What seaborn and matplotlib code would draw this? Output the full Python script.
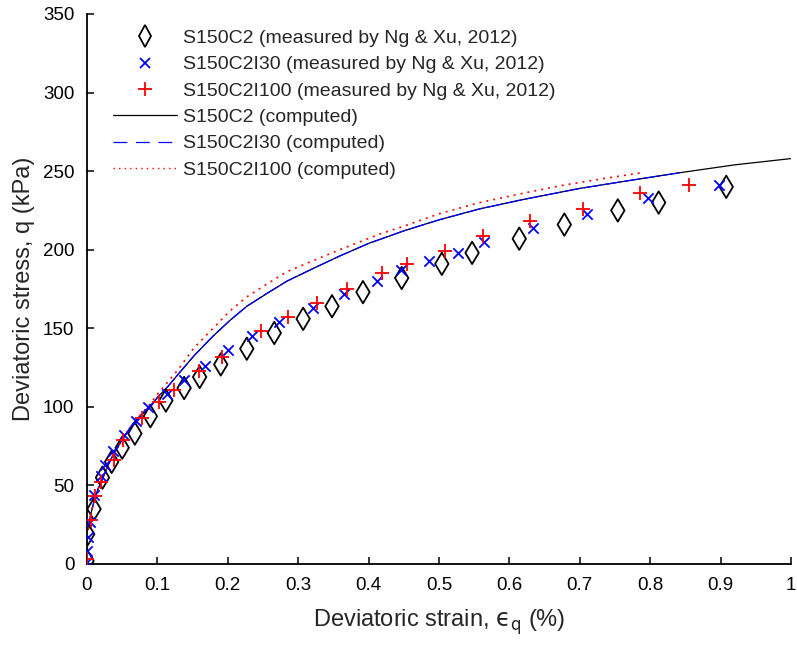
import numpy as np
import pandas as pd
import matplotlib
matplotlib.use("Agg")
import matplotlib.pyplot as plt
from matplotlib.lines import Line2D
import seaborn as sns

s150c2_x = [0.000, 0.001, 0.010, 0.022, 0.035, 0.050, 0.068, 0.090, 0.112, 0.138,
            0.160, 0.190, 0.227, 0.266, 0.307, 0.348, 0.392, 0.447, 0.504, 0.547,
            0.614, 0.678, 0.754, 0.812, 0.908]
s150c2_q = [2, 19, 35, 55, 65, 74, 83, 94, 104, 112,
            119, 127, 137, 147, 156, 164, 173, 182, 191, 198,
            207, 216, 225, 230, 240]

s150c2i30_x = [0.000, 0.000, 0.001, 0.004, 0.010, 0.020, 0.026, 0.037, 0.053, 0.070,
               0.087, 0.114, 0.138, 0.168, 0.200, 0.234, 0.273, 0.321, 0.365, 0.412,
               0.446, 0.486, 0.527, 0.564, 0.634, 0.710, 0.797, 0.898]
s150c2i30_q = [1, 8, 17, 27, 44, 56, 63, 72, 82, 91,
               100, 108, 117, 126, 136, 145, 154, 163, 172, 180,
               187, 193, 198, 205, 214, 223, 233, 241]

s150c2i100_x = [0.000, 0.005, 0.012, 0.020, 0.038, 0.051, 0.078, 0.102, 0.124, 0.159,
                0.192, 0.247, 0.286, 0.327, 0.369, 0.419, 0.455, 0.509, 0.563, 0.629,
                0.705, 0.786, 0.855]
s150c2i100_q = [3, 28, 43, 52, 66, 79, 93, 103, 111, 123,
                132, 148, 157, 166, 175, 185, 191, 199, 209, 218,
                226, 236, 241]

# ---- computed curves ----
comp_c2_x = [0.002, 0.005, 0.010, 0.015, 0.020, 0.030, 0.040, 0.050, 0.060, 0.070,
             0.080, 0.090, 0.100, 0.115, 0.130, 0.153, 0.179, 0.203, 0.227, 0.255,
             0.284, 0.321, 0.359, 0.400, 0.450, 0.500, 0.558, 0.620, 0.700, 0.770,
             0.842, 0.920, 1.000]
comp_c2_q = [22, 31, 40, 47, 52, 63, 72, 79, 86, 92,
             96, 100, 106, 113, 121, 133, 145, 155, 164, 172,
             180, 188, 196, 204, 212, 219, 226, 232, 239, 244,
             249, 254, 258]

comp_i30_x = comp_c2_x[:31]
comp_i30_q = comp_c2_q[:31]

comp_i100_x = [0.002, 0.005, 0.010, 0.015, 0.020, 0.030, 0.040, 0.050, 0.060, 0.070,
               0.080, 0.090, 0.100, 0.115, 0.130, 0.151, 0.179, 0.203, 0.227, 0.255,
               0.284, 0.321, 0.359, 0.416, 0.450, 0.501, 0.558, 0.620, 0.676, 0.730,
               0.788]
comp_i100_q = [22, 31, 40, 47, 52, 63, 72, 79, 86, 92,
               97, 102, 108, 116, 124, 137, 150, 161, 170, 178,
               186, 193, 200, 210, 215, 223, 230, 236, 241, 245,
               249]

labels = ["S150C2 (measured by Ng & Xu, 2012)",
          "S150C2I30 (measured by Ng & Xu, 2012)",
          "S150C2I100 (measured by Ng & Xu, 2012)",
          "S150C2 (computed)",
          "S150C2I30 (computed)",
          "S150C2I100 (computed)"]

sns.set_style("white")
plt.rcParams["font.family"] = ["Liberation Sans", "DejaVu Sans"]
plt.rcParams["mathtext.fontset"] = "dejavusans"

fig = plt.figure(figsize=(7.97, 6.48), dpi=100)
ax = fig.add_axes([87 / 797, (648 - 564) / 648, 704 / 797, 550 / 648])

sns.lineplot(x=comp_c2_x, y=comp_c2_q, ax=ax, color="black", lw=0.9, sort=False)
sns.lineplot(x=comp_i30_x, y=comp_i30_q, ax=ax, color="blue", lw=0.9, sort=False,
             linestyle=(0, (14, 2)))
sns.lineplot(x=comp_i100_x, y=comp_i100_q, ax=ax, color="red", lw=1.2, sort=False,
             linestyle=(0, (1.2, 3.0)))

sns.scatterplot(x=s150c2_x, y=s150c2_q, ax=ax, marker="d", s=130,
                facecolor="none", edgecolor="black", linewidth=1.3, zorder=3)
sns.scatterplot(x=s150c2i30_x, y=s150c2i30_q, ax=ax, marker="x", s=55,
                color="blue", linewidth=1.3, zorder=4)
sns.scatterplot(x=s150c2i100_x, y=s150c2i100_q, ax=ax, marker="+", s=110,
                color="red", linewidth=1.3, zorder=5)

ax.set_xlim(0, 1)
ax.set_ylim(0, 350)
ax.set_xticks(np.arange(0, 1.01, 0.1))
ax.set_xticklabels(["0"] + [f"{v:.1f}" for v in np.arange(0.1, 0.95, 0.1)] + ["1"])
ax.set_yticks(np.arange(0, 351, 50))
ax.tick_params(direction="in", length=5, width=1.1, labelsize=13.5, colors="black",
               bottom=True, left=True, top=False, right=False, pad=9)
for side in ["top", "right"]:
    ax.spines[side].set_visible(False)
for side in ["left", "bottom"]:
    ax.spines[side].set_linewidth(1.3)
    ax.spines[side].set_color("black")

ax.set_xlabel("Deviatoric strain, $\\mathrm{\u03f5}_{\\mathrm{q}}$ (%)", fontsize=17, labelpad=10)
ax.set_ylabel("Deviatoric stress, q (kPa)", fontsize=17, labelpad=6)

handles = [
    Line2D([], [], ls="none", marker="d", markersize=11, mfc="none", mec="black", mew=1.3),
    Line2D([], [], ls="none", marker="x", markersize=7.5, color="blue", mew=1.3),
    Line2D([], [], ls="none", marker="+", markersize=10, color="red", mew=1.3),
    Line2D([], [], color="black", lw=0.9),
    Line2D([], [], color="blue", lw=0.9, ls=(0, (11, 7))),
    Line2D([], [], color="red", lw=1.0, ls=(0, (1, 3))),
]
leg = ax.legend(handles, labels, loc="upper left", bbox_to_anchor=(0.037, 0.972),
                frameon=False, fontsize=14, handlelength=3.3, handletextpad=0.3,
                labelspacing=0.45, borderpad=0, borderaxespad=0, numpoints=1)

fig.savefig("out.png", dpi=100)
